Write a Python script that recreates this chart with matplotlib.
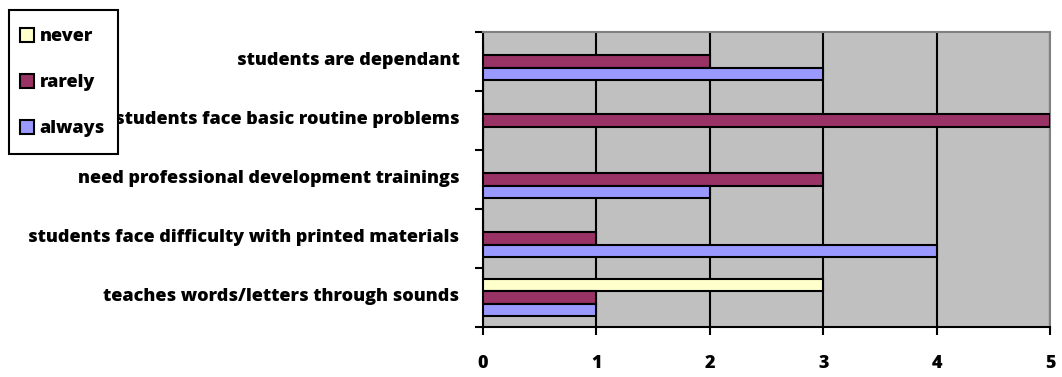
import matplotlib
matplotlib.use("Agg")
import matplotlib.pyplot as plt
from matplotlib.patches import Rectangle
import numpy as np

plt.rcParams['font.family'] = ['Open Sans', 'DejaVu Sans']
plt.rcParams['font.weight'] = 'heavy'

categories = [
    "teaches words/letters through sounds",
    "students face difficulty with printed materials",
    "need professional development trainings",
    "students face basic routine problems",
    "students are dependant",
]
series_names = ["never", "rarely", "always"]
never = [3, 0, 0, 0, 0]
rarely = [1, 1, 3, 5, 2]
always = [1, 4, 2, 0, 3]
x_ticks = [0, 1, 2, 3, 4, 5]

colors = ["#FFFFCC", "#993366", "#9999FF"]

W, H = 1062, 377
fig = plt.figure(figsize=(W / 100, H / 100), dpi=100)
ax = fig.add_axes([483 / W, 1 - 327 / H, (1050 - 483) / W, (327 - 32) / H])
ax.set_facecolor("#C0C0C0")

y = np.arange(len(categories))
h = 0.21
offsets = [h, 0, -h]
handles = []
for vals, off, c, name in zip([never, rarely, always], offsets, colors, series_names):
    b = ax.barh(y + off, vals, height=h, color=c, edgecolor="black", linewidth=1.5,
                label=name, zorder=3)
    handles.append(b)

ax.set_xlim(0, 5)
ax.set_ylim(-0.5, len(categories) - 0.5)
ax.set_xticks(x_ticks)
ax.set_xticklabels([str(t) for t in x_ticks], fontsize=13, fontweight='heavy')
ax.grid(axis='x', color='black', linewidth=1.5, zorder=1)
ax.set_axisbelow(True)

ax.set_yticks(y + 0.05)
ax.set_yticklabels(categories, fontsize=13, fontweight='heavy')
ax.tick_params(axis='y', length=0, pad=17)
ax.set_yticks(np.arange(-0.5, len(categories)), minor=True)
ax.tick_params(axis='y', which='minor', length=6, width=1.5, direction='out')
ax.tick_params(axis='x', length=6, width=1.5, direction='out', pad=14)

for s in ['left', 'bottom']:
    ax.spines[s].set_color('black')
    ax.spines[s].set_linewidth(1.5)
for s in ['top', 'right']:
    ax.spines[s].set_color('#808080')
    ax.spines[s].set_linewidth(1.5)

# legend box
fig.add_artist(Rectangle((9 / W, 1 - 154 / H), 109 / W, 144 / H,
                         transform=fig.transFigure, facecolor='white',
                         edgecolor='black', linewidth=1.5, zorder=4))
leg = fig.legend(handles=handles, labels=series_names, loc='upper left',
                 bbox_to_anchor=(20 / W, 1 - 28 / H), frameon=False, fontsize=13,
                 handlelength=0.8, handleheight=0.8, handletextpad=0.3,
                 labelspacing=1.6, borderpad=0, borderaxespad=0)
leg.set_zorder(5)
for t in leg.get_texts():
    t.set_fontweight('heavy')

fig.savefig("out.png", dpi=100)
